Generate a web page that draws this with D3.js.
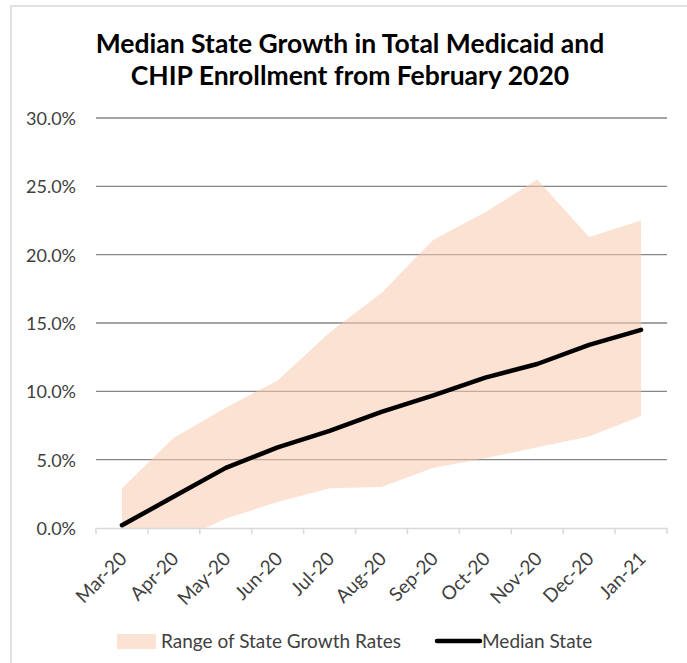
<!DOCTYPE html>
<html>
<head>
<meta charset="utf-8">
<script src="https://cdn.jsdelivr.net/npm/d3@7"></script>
<style>
  body { margin: 0; background: #fff; }
  text { font-family: Lato, "Open Sans", sans-serif; fill: #404040; }
</style>
</head>
<body>
<div id="canvas"></div>
<script>
const months = ["Mar-20","Apr-20","May-20","Jun-20","Jul-20","Aug-20","Sep-20","Oct-20","Nov-20","Dec-20","Jan-21"];
const medianState = [0.2, 2.3, 4.4, 5.9, 7.1, 8.5, 9.7, 11.0, 12.0, 13.4, 14.5];
const rangeHigh = [2.9, 6.6, 8.8, 10.8, 14.3, 17.2, 21.1, 23.1, 25.5, 21.3, 22.5];
const rangeLow = [-0.8, -1.1, 0.7, 1.9, 2.9, 3.0, 4.4, 5.1, 5.9, 6.7, 8.2];
const yTicks = [0, 5, 10, 15, 20, 25, 30];

const w = 687, h = 663;
const plotL = 96, plotR = 667, plotT = 118, plotB = 528;

const svg = d3.select("#canvas").append("svg").attr("width", w).attr("height", h);

// chart frame
svg.append("rect").attr("x", 11).attr("y", 6).attr("width", 690).attr("height", 680)
   .attr("fill", "none").attr("stroke", "#d9d9d9").attr("stroke-width", 1.5);

svg.append("text").attr("x", 350).attr("y", 53).attr("text-anchor", "middle")
   .style("font-size", "26.5px").style("font-weight", "bold").style("fill", "#000")
   .text("Median State Growth in Total Medicaid and");
svg.append("text").attr("x", 350).attr("y", 85).attr("text-anchor", "middle")
   .style("font-size", "26.5px").style("font-weight", "bold").style("fill", "#000")
   .text("CHIP Enrollment from February 2020");

const xScale = d3.scaleBand().domain(months).range([plotL, plotR]);
const yScale = d3.scaleLinear().domain([0, 30]).range([plotB, plotT]);
const xc = d => xScale(d) + xScale.bandwidth() / 2;

// gridlines
svg.append("g").selectAll("line").data(yTicks.filter(d => d > 0)).enter().append("line")
   .attr("x1", plotL).attr("x2", plotR)
   .attr("y1", d => yScale(d)).attr("y2", d => yScale(d))
   .attr("stroke", "#868686").attr("stroke-width", 1.3);

// y labels
svg.append("g").selectAll("text").data(yTicks).enter().append("text")
   .attr("x", 76).attr("y", d => yScale(d) + 7)
   .attr("text-anchor", "end").style("font-size", "18px")
   .text(d => d.toFixed(1) + "%");

// clip so range area stays above 0%
svg.append("clipPath").attr("id", "plotclip").append("rect")
   .attr("x", plotL).attr("y", plotT).attr("width", plotR - plotL).attr("height", plotB - plotT);

const area = d3.area()
   .x((d, i) => xc(months[i]))
   .y0((d, i) => yScale(rangeLow[i]))
   .y1((d, i) => yScale(rangeHigh[i]));
svg.append("path").datum(rangeHigh).attr("d", area)
   .attr("clip-path", "url(#plotclip)")
   .attr("fill", "#f8cbad").attr("fill-opacity", 0.55);

// x axis
const xAxis = d3.axisBottom(xScale).tickSize(0).tickFormat("");
const gx = svg.append("g").attr("transform", "translate(0," + plotB + ")").call(xAxis);
gx.select(".domain").attr("stroke", "#d9d9d9").attr("stroke-width", 1.5);
svg.append("g").selectAll("line").data(d3.range(months.length + 1)).enter().append("line")
   .attr("x1", i => plotL + i * xScale.step()).attr("x2", i => plotL + i * xScale.step())
   .attr("y1", plotB).attr("y2", plotB + 6)
   .attr("stroke", "#d9d9d9").attr("stroke-width", 1.5);

svg.append("g").selectAll("text").data(months).enter().append("text")
   .attr("text-anchor", "end").style("font-size", "19px")
   .attr("transform", d => "translate(" + (xc(d) + 6) + "," + (plotB + 32) + ") rotate(-45)")
   .text(d => d);

// median line
const line = d3.line().x((d, i) => xc(months[i])).y(d => yScale(d));
svg.append("path").datum(medianState).attr("d", line)
   .attr("fill", "none").attr("stroke", "#000").attr("stroke-width", 4.5)
   .attr("stroke-linecap", "round").attr("stroke-linejoin", "round");

// legend
const lg = svg.append("g");
lg.append("rect").attr("x", 117).attr("y", 634).attr("width", 39).attr("height", 15)
   .attr("fill", "#f8cbad").attr("fill-opacity", 0.55);
lg.append("text").attr("x", 161).attr("y", 648).style("font-size", "19px")
   .text("Range of State Growth Rates");
lg.append("line").attr("x1", 437).attr("x2", 480).attr("y1", 641).attr("y2", 641)
   .attr("stroke", "#000").attr("stroke-width", 4.5).attr("stroke-linecap", "round");
lg.append("text").attr("x", 482).attr("y", 648).style("font-size", "19px")
   .text("Median State");
</script>
</body>
</html>
